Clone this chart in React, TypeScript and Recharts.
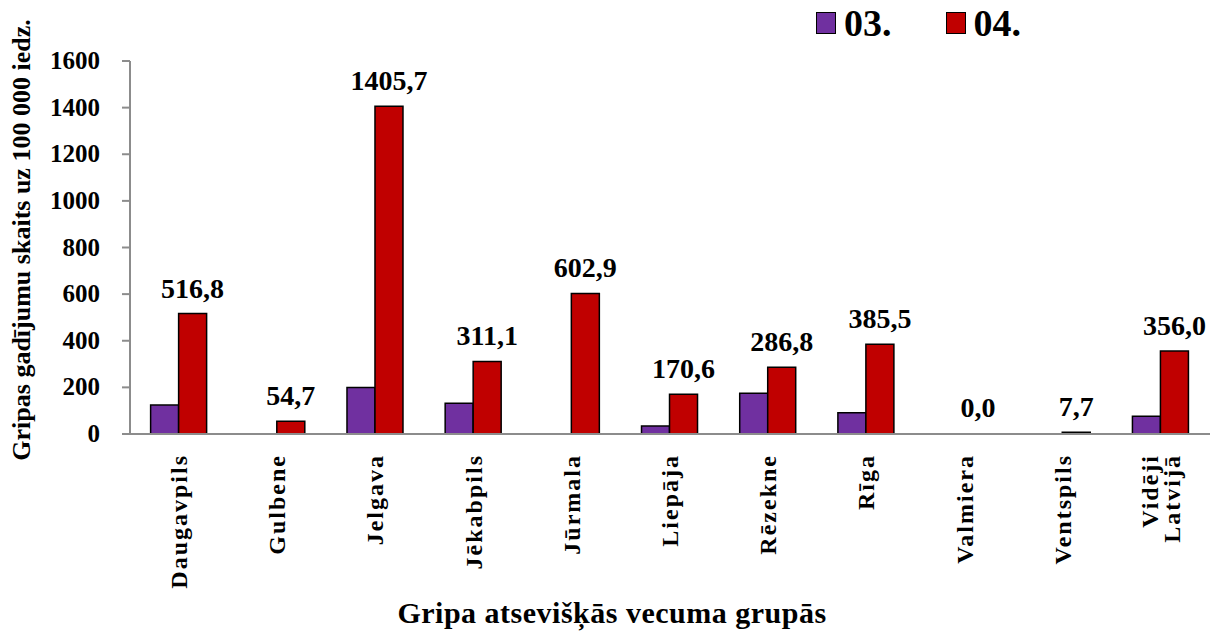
import React from 'react';
import { BarChart, Bar, XAxis, YAxis, LabelList, Label, Rectangle } from 'recharts';

const categories = ['Daugavpils', 'Gulbene', 'Jelgava', 'Jēkabpils', 'Jūrmala', 'Liepāja', 'Rēzekne', 'Rīga', 'Valmiera', 'Ventspils', 'Vidēji\nLatvijā'];
const march = [124, null, 199, 132, null, 34, 175, 91, null, null, 76];
const april = [516.8, 54.7, 1405.7, 311.1, 602.9, 170.6, 286.8, 385.5, 0.0, 7.7, 356.0];
const yTicks = [0, 200, 400, 600, 800, 1000, 1200, 1400, 1600];

const FONT = '"Liberation Serif", "Times New Roman", serif';
const PURPLE = '#7030A0';
const RED = '#C00000';
const AXIS = '#8c8c8c';

const data = categories.map((name, i) => ({ name, m03: march[i], m04: april[i] }));

const fmt = (v: any) => (v == null ? '' : Number(v).toFixed(1).replace('.', ','));

const txt = { fontFamily: FONT, fontWeight: 700 } as React.CSSProperties;

const XTick = (props: any) => {
  const { x, y, payload } = props;
  const lines = String(payload.value).split('\n');
  const lh = 22;
  const start = -((lines.length - 1) * lh) / 2;
  return (
    <g transform={`translate(${x},${y + 12})`}>
      <text transform="rotate(-90)" textAnchor="end" style={{ ...txt, fontSize: 24, letterSpacing: 2 }} fill="#000">
        {lines.map((l, i) => (
          <tspan key={i} x={0} y={start + i * lh + 8}>{l}</tspan>
        ))}
      </text>
    </g>
  );
};

const YTick = (props: any) => {
  const { x, y, payload } = props;
  return (
    <text x={x} y={y + 8} textAnchor="end" style={{ ...txt, fontSize: 25 }} fill="#000">
      {payload.value}
    </text>
  );
};

// label above every red bar, zero included
const TopLabel = (props: any) => {
  const { x, y, width, value } = props;
  if (value == null) return null;
  return (
    <text x={x + width / 2} y={y - 16} textAnchor="middle" style={{ ...txt, fontSize: 28 }} fill="#000">
      {fmt(value)}
    </text>
  );
};

// zero bars get a 1px slot so their label is kept, but are not drawn
const RedShape = (props: any) => {
  if (props.payload && props.payload.m04 === 0) return <g />;
  return <Rectangle {...props} />;
};

const LegendBox = () => (
  <div style={{ position: 'absolute', left: 816, top: 1, display: 'flex', alignItems: 'center', fontFamily: FONT, fontWeight: 700, fontSize: 38, color: '#000' }}>
    <span style={{ width: 18, height: 20, background: PURPLE, border: '1.5px solid #000', display: 'inline-block', marginRight: 8 }} />
    <span style={{ marginRight: 54 }}>03.</span>
    <span style={{ width: 18, height: 20, background: RED, border: '1.5px solid #000', display: 'inline-block', marginRight: 8 }} />
    <span>04.</span>
  </div>
);

export default function App() {
  return (
    <div style={{ position: 'absolute', left: 0, top: 0, width: 1219, height: 633, background: '#fff' }}>
      <BarChart
        width={1219}
        height={633}
        data={data}
        margin={{ top: 61, right: 9, bottom: 39, left: 0 }}
        barCategoryGap="21%"
        barGap={0}
      >
        <XAxis
          dataKey="name"
          interval={0}
          tick={<XTick />}
          tickLine={false}
          axisLine={{ stroke: AXIS, strokeWidth: 2 }}
          height={160}
        >
          <Label
            content={() => (
              <text x={612} y={623} textAnchor="middle" style={{ ...txt, fontSize: 30, letterSpacing: 0.5 }} fill="#000">
                Gripa atsevišķās vecuma grupās
              </text>
            )}
          />
        </XAxis>
        <YAxis
          width={130}
          domain={[0, 1600]}
          ticks={yTicks}
          interval={0}
          tickSize={8}
          tickMargin={22}
          tickLine={{ stroke: AXIS, strokeWidth: 2 }}
          axisLine={{ stroke: AXIS, strokeWidth: 2 }}
          tick={<YTick />}
        >
          <Label
            content={() => (
              <text x={30} y={240} transform="rotate(-90 30 240)" textAnchor="middle" style={{ ...txt, fontSize: 26 }} fill="#000">
                Gripas gadījumu skaits uz 100 000 iedz.
              </text>
            )}
          />
        </YAxis>
        <Bar dataKey="m03" name="03." fill={PURPLE} stroke="#000" strokeWidth={1.5} isAnimationActive={false} />
        <Bar
          dataKey="m04"
          name="04."
          fill={RED}
          stroke="#000"
          strokeWidth={1.5}
          minPointSize={(v: any) => (v === 0 ? 1 : 0)}
          shape={<RedShape />}
          isAnimationActive={false}
        >
          <LabelList dataKey="m04" content={<TopLabel />} />
        </Bar>
      </BarChart>
      <LegendBox />
    </div>
  );
}
